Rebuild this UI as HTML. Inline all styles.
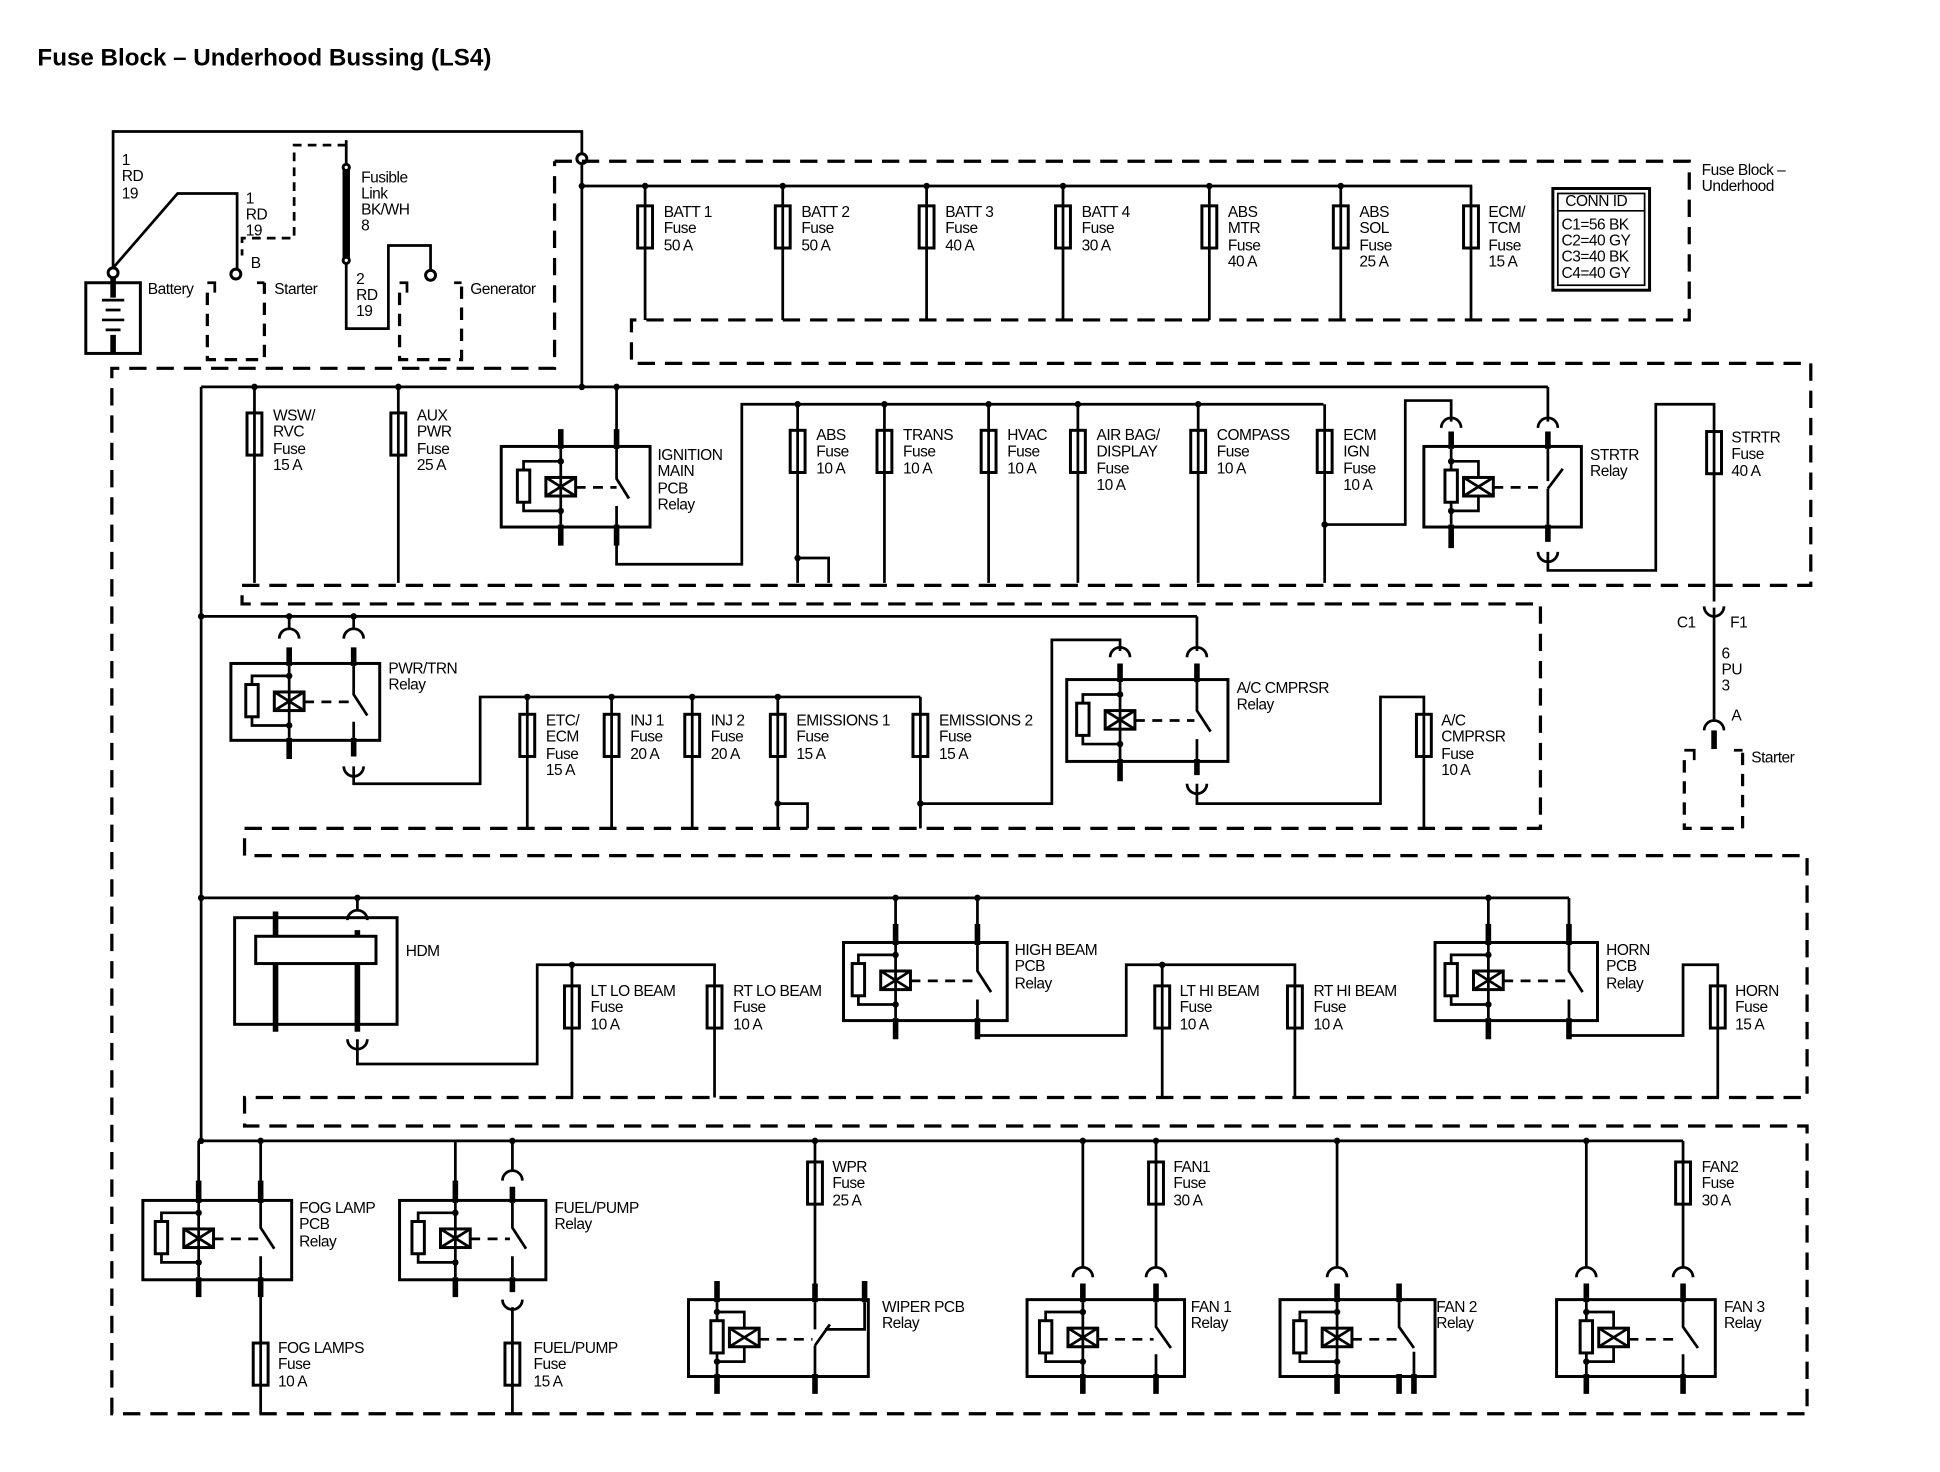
<!DOCTYPE html>
<html><head><meta charset="utf-8"><style>
html,body{margin:0;padding:0;background:#fff;}
svg{display:block;}
text{font-family:"Liberation Sans",sans-serif;font-size:12.5px;fill:#000;letter-spacing:-0.4px;}
.w{fill:none;stroke:#000;stroke-width:2.2;}
.t{fill:none;stroke:#000;stroke-width:4.5;}
.d{fill:none;stroke:#000;stroke-width:2.6;stroke-dasharray:14 8;}
.dd{fill:none;stroke:#000;stroke-width:2.2;stroke-dasharray:7 5;}
.b{fill:#fff;stroke:#000;stroke-width:2.4;}
</style></head><body>
<svg width="1940" height="1472" viewBox="0 0 1564 1187" xmlns="http://www.w3.org/2000/svg">
<defs>
<g id="fuse"><rect x="-6" y="0" width="12" height="34" class="b"/><line x1="0" y1="0" x2="0" y2="34" class="w"/></g>
<g id="coil">
<circle cx="0" cy="12" r="2.6"/><circle cx="0" cy="52" r="2.6"/>
<path class="w" d="M0,12 H-30 V19 M-30,45 V52 H0"/>
<rect x="-35" y="19" width="10" height="26" class="b"/>
<rect x="-12" y="25" width="24" height="15" class="b"/>
<path class="w" d="M-12,25 L12,40 M-12,40 L12,25"/>
</g>
<g id="coil2">
<circle cx="0" cy="12" r="2.6"/><circle cx="0" cy="52" r="2.6"/>
<path class="w" d="M0,12 H22 V25 M22,40 V52 H0"/>
<rect x="-5" y="19" width="10" height="26" class="b"/>
<rect x="10" y="25" width="24" height="15" class="b"/>
<path class="w" d="M10,25 L34,40 M10,40 L34,25"/>
</g>
<path id="arcT" class="w" d="M-8,8 A8,8 0 0 1 8,8"/>
<path id="arcB" class="w" d="M-8,-8 A8,8 0 0 0 8,-8"/>
</defs>

<text x="30" y="53" style="font-size:19.5px;font-weight:bold;letter-spacing:0">Fuse Block – Underhood Bussing (LS4)</text>

<!-- top-left -->
<path class="w" d="M91,216 V106 H469 V124"/>
<circle cx="469" cy="128" r="4" class="b"/>
<text x="98" y="133">1</text><text x="98" y="146">RD</text><text x="98" y="160">19</text>
<path class="w" d="M91,216 L143,156 H191 V218"/>
<text x="198" y="164">1</text><text x="198" y="177">RD</text><text x="198" y="190">19</text>
<text x="202" y="216">B</text>
<circle cx="91" cy="220" r="4" class="b"/>
<circle cx="190" cy="221" r="4" class="b"/>
<rect x="69" y="228" width="44" height="57" class="b"/>
<path class="t" d="M91,224 V240 M91,270 V285"/>
<path class="w" d="M82,242 H100 M85,250 H97 M82,258 H100 M85,266 H97"/>
<text x="119" y="237">Battery</text>
<path class="d" d="M167,236 V290 H213 V228" style="stroke-dasharray:10 7"/>
<path class="w" d="M167,228 H173 V236 M207,228 H213"/>
<text x="221" y="237">Starter</text>
<path class="dd" d="M279,117 H237 V192 H195 V206"/>
<path class="w" d="M279,113 V210 V265 H313 V198 H347 V218"/>
<rect x="276" y="135" width="6" height="75" fill="#000"/>
<circle cx="279" cy="135" r="2.5" class="b"/><circle cx="279" cy="210" r="2.5" class="b"/>
<text x="291" y="147">Fusible</text><text x="291" y="160">Link</text><text x="291" y="173">BK/WH</text><text x="291" y="186">8</text>
<text x="287" y="229">2</text><text x="287" y="242">RD</text><text x="287" y="255">19</text>
<circle cx="347" cy="222" r="4" class="b"/>
<path class="d" d="M322,236 V290 H372 V228" style="stroke-dasharray:10 7"/>
<path class="w" d="M322,228 H328 V236 M366,228 H372"/>
<text x="379" y="237">Generator</text>

<!-- dashed frames -->
<path class="d" d="M447,130 H1362 V258 H509 V293 H1460 V472 H195 V487 H1242 V668 H197 V690 H1457 V885 H197 V908 H1457 V1140 H90 V297 H447 V130"/>

<!-- section 1 -->
<path class="w" d="M469,132 V312 M469,150 H1187"/>
<circle cx="469" cy="150" r="2.6"/>
<path class="w" d="M520,150V258 M631,150V258 M747,150V258 M857,150V258 M975,150V258 M1081,150V258 M1186,150V258"/>
<g><circle cx="520" cy="150" r="2.6"/><circle cx="631" cy="150" r="2.6"/><circle cx="747" cy="150" r="2.6"/><circle cx="857" cy="150" r="2.6"/><circle cx="975" cy="150" r="2.6"/><circle cx="1081" cy="150" r="2.6"/></g>
<use href="#fuse" x="520" y="166"/><use href="#fuse" x="631" y="166"/><use href="#fuse" x="747" y="166"/><use href="#fuse" x="857" y="166"/><use href="#fuse" x="975" y="166"/><use href="#fuse" x="1081" y="166"/><use href="#fuse" x="1186" y="166"/>
<text x="535" y="175">BATT 1</text><text x="535" y="188">Fuse</text><text x="535" y="202">50 A</text>
<text x="646" y="175">BATT 2</text><text x="646" y="188">Fuse</text><text x="646" y="202">50 A</text>
<text x="762" y="175">BATT 3</text><text x="762" y="188">Fuse</text><text x="762" y="202">40 A</text>
<text x="872" y="175">BATT 4</text><text x="872" y="188">Fuse</text><text x="872" y="202">30 A</text>
<text x="990" y="175">ABS</text><text x="990" y="188">MTR</text><text x="990" y="202">Fuse</text><text x="990" y="215">40 A</text>
<text x="1096" y="175">ABS</text><text x="1096" y="188">SOL</text><text x="1096" y="202">Fuse</text><text x="1096" y="215">25 A</text>
<text x="1200" y="175">ECM/</text><text x="1200" y="188">TCM</text><text x="1200" y="202">Fuse</text><text x="1200" y="215">15 A</text>
<rect x="1252" y="152" width="78" height="82" class="b"/>
<rect x="1256" y="156" width="70" height="74" fill="none" stroke="#000" stroke-width="1.4"/>
<line x1="1256" y1="170" x2="1326" y2="170" stroke="#000" stroke-width="1.4"/>
<text x="1262" y="166">CONN ID</text>
<text x="1259" y="185">C1=56 BK</text><text x="1259" y="198">C2=40 GY</text><text x="1259" y="211">C3=40 BK</text><text x="1259" y="224">C4=40 GY</text>
<text x="1372" y="141">Fuse Block –</text><text x="1372" y="154">Underhood</text>

<!-- section 2 -->
<path class="w" d="M162,312 H1248 M162,312 V920"/>
<circle cx="205" cy="312" r="2.6"/><circle cx="321" cy="312" r="2.6"/><circle cx="469" cy="312" r="2.6"/><circle cx="497" cy="312" r="2.6"/>
<path class="w" d="M205,312V470 M321,312V470"/>
<use href="#fuse" x="205" y="333"/><use href="#fuse" x="321" y="333"/>
<text x="220" y="339">WSW/</text><text x="220" y="352">RVC</text><text x="220" y="366">Fuse</text><text x="220" y="379">15 A</text>
<text x="336" y="339">AUX</text><text x="336" y="352">PWR</text><text x="336" y="366">Fuse</text><text x="336" y="379">25 A</text>
<!-- ignition relay -->
<rect x="404" y="360" width="120" height="65" class="b"/>
<use href="#coil" x="452" y="360"/>
<path class="t" d="M452,346 V362 M452,423 V440 M497,346 V362 M497,423 V440"/>
<path class="w" d="M452,362 V423"/>
<path class="w" d="M497,312 V386 L507,402 M497,408 V455 H598 V326 H1067"/>
<path class="w" d="M464,393 H497" style="stroke-dasharray:8 6"/>
<text x="530" y="371">IGNITION</text><text x="530" y="384">MAIN</text><text x="530" y="398">PCB</text><text x="530" y="411">Relay</text>
<path class="w" d="M643,326V470 M713,326V470 M797,326V470 M869,326V470 M966,326V470 M1068,326V470 M643,450 H668 V470"/>
<circle cx="643" cy="326" r="2.6"/><circle cx="713" cy="326" r="2.6"/><circle cx="797" cy="326" r="2.6"/><circle cx="869" cy="326" r="2.6"/><circle cx="966" cy="326" r="2.6"/><circle cx="643" cy="450" r="2.6"/>
<use href="#fuse" x="643" y="347"/><use href="#fuse" x="713" y="347"/><use href="#fuse" x="797" y="347"/><use href="#fuse" x="869" y="347"/><use href="#fuse" x="966" y="347"/><use href="#fuse" x="1068" y="347"/>
<text x="658" y="355">ABS</text><text x="658" y="368">Fuse</text><text x="658" y="382">10 A</text>
<text x="728" y="355">TRANS</text><text x="728" y="368">Fuse</text><text x="728" y="382">10 A</text>
<text x="812" y="355">HVAC</text><text x="812" y="368">Fuse</text><text x="812" y="382">10 A</text>
<text x="884" y="355">AIR BAG/</text><text x="884" y="368">DISPLAY</text><text x="884" y="382">Fuse</text><text x="884" y="395">10 A</text>
<text x="981" y="355">COMPASS</text><text x="981" y="368">Fuse</text><text x="981" y="382">10 A</text>
<text x="1083" y="355">ECM</text><text x="1083" y="368">IGN</text><text x="1083" y="382">Fuse</text><text x="1083" y="395">10 A</text>
<!-- STRTR relay -->
<rect x="1148" y="360" width="127" height="65" class="b"/>
<path class="w" d="M1170,362 V423"/>
<use href="#coil2" x="1170" y="360"/>
<path class="t" d="M1170,348 V362 M1170,423 V442 M1248,348 V362 M1248,423 V437"/>
<path class="w" d="M1068,423 H1133 V323 H1170 V340 M1248,312 V340 M1248,362 V388 M1248,394 L1260,378 M1248,394 V423"/>
<circle cx="1068" cy="423" r="2.6"/>
<use href="#arcT" x="1170" y="337"/><use href="#arcT" x="1248" y="337"/><use href="#arcB" x="1248" y="453"/>
<path class="w" d="M1204,393 H1245" style="stroke-dasharray:8 6"/>
<path class="w" d="M1248,445 V460 H1335 V326 H1382 V485"/>
<use href="#fuse" x="1382" y="348"/>
<text x="1282" y="371">STRTR</text><text x="1282" y="384">Relay</text>
<text x="1396" y="357">STRTR</text><text x="1396" y="370">Fuse</text><text x="1396" y="384">40 A</text>
<!-- C1 to starter -->
<use href="#arcB" x="1382" y="497"/>
<path class="w" d="M1382,490 V580"/>
<use href="#arcT" x="1382" y="581"/>
<path class="t" d="M1382,589 V604"/>
<text x="1352" y="506">C1</text><text x="1395" y="506">F1</text>
<text x="1388" y="531">6</text><text x="1388" y="544">PU</text><text x="1388" y="557">3</text>
<text x="1396" y="581">A</text>
<path class="d" d="M1358,613 V668 H1405 V605" style="stroke-dasharray:10 7"/>
<path class="w" d="M1358,605 H1366 V613 M1398,605 H1405"/>
<text x="1412" y="615">Starter</text>

<!-- section 3 -->
<path class="w" d="M162,497 H965"/>
<circle cx="162" cy="497" r="2.6"/><circle cx="233" cy="497" r="2.6"/><circle cx="285" cy="497" r="2.6"/>
<rect x="186" y="535" width="120" height="62" class="b"/>
<use href="#coil" x="233" y="533"/>
<path class="t" d="M233,522 V537 M233,595 V612 M285,522 V537 M285,595 V610"/>
<path class="w" d="M233,537 V595 M233,497 V507 M285,497 V507 M285,537 V560 L296,577 M285,582 V595"/>
<use href="#arcT" x="233" y="507"/><use href="#arcT" x="285" y="507"/><use href="#arcB" x="285" y="626"/>
<path class="w" d="M245,566 H284" style="stroke-dasharray:8 6"/>
<path class="w" d="M285,618 V632 H387 V562 H742"/>
<text x="313" y="543">PWR/TRN</text><text x="313" y="556">Relay</text>
<path class="w" d="M425,562V668 M493,562V668 M558,562V668 M627,562V668 M742,562V668 M627,648 H651 V668"/>
<circle cx="425" cy="562" r="2.6"/><circle cx="493" cy="562" r="2.6"/><circle cx="558" cy="562" r="2.6"/><circle cx="627" cy="562" r="2.6"/><circle cx="627" cy="648" r="2.6"/><circle cx="742" cy="648" r="2.6"/>
<use href="#fuse" x="425" y="576"/><use href="#fuse" x="493" y="576"/><use href="#fuse" x="558" y="576"/><use href="#fuse" x="627" y="576"/><use href="#fuse" x="742" y="576"/>
<text x="440" y="585">ETC/</text><text x="440" y="598">ECM</text><text x="440" y="612">Fuse</text><text x="440" y="625">15 A</text>
<text x="508" y="585">INJ 1</text><text x="508" y="598">Fuse</text><text x="508" y="612">20 A</text>
<text x="573" y="585">INJ 2</text><text x="573" y="598">Fuse</text><text x="573" y="612">20 A</text>
<text x="642" y="585">EMISSIONS 1</text><text x="642" y="598">Fuse</text><text x="642" y="612">15 A</text>
<text x="757" y="585">EMISSIONS 2</text><text x="757" y="598">Fuse</text><text x="757" y="612">15 A</text>
<!-- A/C relay -->
<rect x="860" y="548" width="130" height="66" class="b"/>
<use href="#coil" x="903" y="548"/>
<path class="t" d="M903,535 V550 M903,612 V630 M965,535 V550 M965,612 V625"/>
<path class="w" d="M903,550 V612 M742,648 H848 V516 H903 V525 M965,497 V525 M965,550 V573 L976,590 M965,596 V612"/>
<use href="#arcT" x="903" y="522"/><use href="#arcT" x="965" y="522"/><use href="#arcB" x="965" y="640"/>
<path class="w" d="M915,581 H963" style="stroke-dasharray:8 6"/>
<path class="w" d="M965,632 V648 H1113 V562 H1148 V668"/>
<use href="#fuse" x="1148" y="576"/>
<text x="997" y="559">A/C CMPRSR</text><text x="997" y="572">Relay</text>
<text x="1162" y="585">A/C</text><text x="1162" y="598">CMPRSR</text><text x="1162" y="612">Fuse</text><text x="1162" y="625">10 A</text>

<!-- section 4 -->
<path class="w" d="M162,724 H1265"/>
<circle cx="162" cy="724" r="2.6"/><circle cx="288" cy="724" r="2.6"/><circle cx="722" cy="724" r="2.6"/><circle cx="788" cy="724" r="2.6"/><circle cx="1200" cy="724" r="2.6"/>
<rect x="189" y="740" width="131" height="86" class="b"/>
<rect x="206" y="755" width="97" height="22" class="b"/>
<path class="t" d="M222,735 V755 M222,777 V832 M288,750 V755 M288,777 V832"/>
<path class="w" d="M288,724 V734"/>
<use href="#arcT" x="288" y="734"/><use href="#arcB" x="288" y="846"/>
<path class="w" d="M288,838 V858 H433 V778 H576 V885"/>
<text x="327" y="771">HDM</text>
<path class="w" d="M461,778 V885"/><circle cx="461" cy="778" r="2.6"/>
<use href="#fuse" x="461" y="795"/><use href="#fuse" x="576" y="795"/>
<text x="476" y="803">LT LO BEAM</text><text x="476" y="816">Fuse</text><text x="476" y="830">10 A</text>
<text x="591" y="803">RT LO BEAM</text><text x="591" y="816">Fuse</text><text x="591" y="830">10 A</text>
<!-- high beam -->
<rect x="680" y="760" width="132" height="63" class="b"/>
<use href="#coil" x="722" y="758"/>
<path class="t" d="M722,745 V762 M722,821 V838 M788,745 V762 M788,821 V838"/>
<path class="w" d="M722,724 V821 M788,724 V783 L799,800 M788,806 V821"/>
<path class="w" d="M734,791 H786" style="stroke-dasharray:8 6"/>
<path class="w" d="M788,835 H908 V778 H1044 V885 M937,778 V885"/>
<circle cx="937" cy="778" r="2.6"/>
<use href="#fuse" x="937" y="795"/><use href="#fuse" x="1044" y="795"/>
<text x="818" y="770">HIGH BEAM</text><text x="818" y="783">PCB</text><text x="818" y="797">Relay</text>
<text x="951" y="803">LT HI BEAM</text><text x="951" y="816">Fuse</text><text x="951" y="830">10 A</text>
<text x="1059" y="803">RT HI BEAM</text><text x="1059" y="816">Fuse</text><text x="1059" y="830">10 A</text>
<!-- horn -->
<rect x="1157" y="760" width="131" height="63" class="b"/>
<use href="#coil" x="1200" y="758"/>
<path class="t" d="M1200,745 V762 M1200,821 V838 M1265,745 V762 M1265,821 V838"/>
<path class="w" d="M1200,724 V821 M1265,724 V783 L1276,800 M1265,806 V821"/>
<path class="w" d="M1212,791 H1263" style="stroke-dasharray:8 6"/>
<path class="w" d="M1265,835 H1357 V778 H1385 V885"/>
<use href="#fuse" x="1385" y="795"/>
<text x="1295" y="770">HORN</text><text x="1295" y="783">PCB</text><text x="1295" y="797">Relay</text>
<text x="1399" y="803">HORN</text><text x="1399" y="816">Fuse</text><text x="1399" y="830">15 A</text>

<!-- section 5 -->
<path class="w" d="M162,920 H1357"/>
<circle cx="162" cy="920" r="2.6"/><circle cx="210" cy="920" r="2.6"/><circle cx="413" cy="920" r="2.6"/><circle cx="657" cy="920" r="2.6"/><circle cx="873" cy="920" r="2.6"/><circle cx="932" cy="920" r="2.6"/><circle cx="1078" cy="920" r="2.6"/><circle cx="1279" cy="920" r="2.6"/>
<!-- fog -->
<rect x="115" y="968" width="120" height="64" class="b"/>
<use href="#coil" x="160" y="966"/>
<path class="t" d="M160,952 V970 M160,1030 V1046 M210,952 V970 M210,1030 V1046"/>
<path class="w" d="M160,920 V1030 M210,920 V990 L221,1007 M210,1013 V1140"/>
<path class="w" d="M172,999 H208" style="stroke-dasharray:8 6"/>
<use href="#fuse" x="210" y="1083"/>
<text x="241" y="978">FOG LAMP</text><text x="241" y="991">PCB</text><text x="241" y="1005">Relay</text>
<text x="224" y="1091">FOG LAMPS</text><text x="224" y="1104">Fuse</text><text x="224" y="1118">10 A</text>
<!-- fuel pump -->
<rect x="322" y="968" width="118" height="64" class="b"/>
<use href="#coil" x="367" y="966"/>
<path class="t" d="M367,952 V970 M367,1030 V1046 M413,957 V970 M413,1030 V1042"/>
<path class="w" d="M367,920 V1030 M413,920 V944 M413,970 V990 L424,1007 M413,1013 V1030 M413,1054 V1140"/>
<use href="#arcT" x="413" y="944"/><use href="#arcB" x="413" y="1056"/>
<path class="w" d="M379,999 H411" style="stroke-dasharray:8 6"/>
<use href="#fuse" x="413" y="1083"/>
<text x="447" y="978">FUEL/PUMP</text><text x="447" y="991">Relay</text>
<text x="430" y="1091">FUEL/PUMP</text><text x="430" y="1104">Fuse</text><text x="430" y="1118">15 A</text>
<!-- wiper -->
<path class="w" d="M657,920 V1035"/>
<use href="#fuse" x="657" y="937"/>
<text x="671" y="945">WPR</text><text x="671" y="958">Fuse</text><text x="671" y="972">25 A</text>
<rect x="555" y="1048" width="145" height="62" class="b"/>
<path class="w" d="M578,1050 V1108"/>
<use href="#coil2" x="578" y="1046"/>
<path class="t" d="M578,1033 V1050 M578,1108 V1124 M657,1035 V1050 M657,1108 V1124 M697,1033 V1050"/>
<path class="w" d="M657,1050 V1072 M657,1085 L669,1068 M657,1085 V1108 M697,1050 V1072 H665"/>
<path class="w" d="M612,1080 H655" style="stroke-dasharray:8 6"/>
<text x="711" y="1058">WIPER PCB</text><text x="711" y="1071">Relay</text>
<!-- fan1 -->
<path class="w" d="M873,920 V1022 M932,920 V1022"/>
<use href="#fuse" x="932" y="937"/>
<text x="946" y="945">FAN1</text><text x="946" y="958">Fuse</text><text x="946" y="972">30 A</text>
<use href="#arcT" x="873" y="1022"/><use href="#arcT" x="932" y="1022"/>
<rect x="828" y="1048" width="127" height="62" class="b"/>
<use href="#coil" x="873" y="1046"/>
<path class="t" d="M873,1035 V1050 M873,1108 V1124 M932,1035 V1050 M932,1108 V1124"/>
<path class="w" d="M873,1050 V1108 M932,1050 V1070 L944,1087 M932,1092 V1108"/>
<path class="w" d="M885,1080 H930" style="stroke-dasharray:8 6"/>
<text x="960" y="1058">FAN 1</text><text x="960" y="1071">Relay</text>
<!-- fan2 -->
<path class="w" d="M1078,920 V1022"/>
<use href="#arcT" x="1078" y="1022"/>
<rect x="1032" y="1048" width="125" height="62" class="b"/>
<use href="#coil" x="1078" y="1046"/>
<path class="t" d="M1078,1035 V1050 M1078,1108 V1124 M1128,1035 V1050 M1128,1108 V1124 M1140,1108 V1124"/>
<path class="w" d="M1078,1050 V1108 M1128,1050 V1070 L1140,1087 M1140,1090 V1108"/>
<path class="w" d="M1090,1080 H1126" style="stroke-dasharray:8 6"/>
<text x="1158" y="1058">FAN 2</text><text x="1158" y="1071">Relay</text>
<!-- fan3 -->
<path class="w" d="M1279,920 V1022 M1357,920 V1022"/>
<use href="#fuse" x="1357" y="937"/>
<text x="1372" y="945">FAN2</text><text x="1372" y="958">Fuse</text><text x="1372" y="972">30 A</text>
<use href="#arcT" x="1279" y="1022"/><use href="#arcT" x="1357" y="1022"/>
<rect x="1255" y="1048" width="128" height="62" class="b"/>
<path class="w" d="M1279,1050 V1108"/>
<use href="#coil2" x="1279" y="1046"/>
<path class="t" d="M1279,1035 V1050 M1279,1108 V1124 M1357,1035 V1050 M1357,1108 V1124"/>
<path class="w" d="M1357,1050 V1070 L1369,1087 M1357,1092 V1108"/>
<path class="w" d="M1313,1080 H1355" style="stroke-dasharray:8 6"/>
<text x="1390" y="1058">FAN 3</text><text x="1390" y="1071">Relay</text>
</svg>
</body></html>
